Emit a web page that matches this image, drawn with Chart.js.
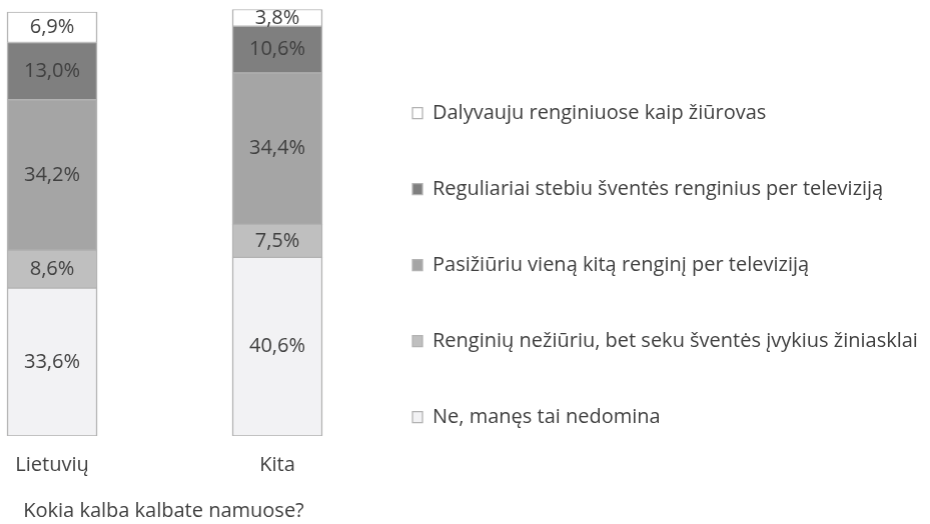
<!DOCTYPE html>
<html lang="lt">
<head>
<meta charset="utf-8">
<title>Kokia kalba kalbate namuose?</title>
<script src="https://cdn.jsdelivr.net/npm/chart.js@4.4.1/dist/chart.umd.min.js"></script>
<style>
  html, body { margin: 0; padding: 0; background: #fff; overflow: hidden; }
  body { width: 930px; height: 524px; position: relative; }
  #wrap { position: absolute; left: -29px; top: 0; height: 524px; }
</style>
</head>
<body>
<div id="wrap"><canvas id="chart"></canvas></div>
<script>
  // x axis categories
  const categories = ['Lietuvių', 'Kita'];

  // series, bottom of the stack first
  const seriesLabels = [
    'Ne, manęs tai nedomina',
    'Renginių nežiūriu, bet seku šventės įvykius žiniasklai',
    'Pasižiūriu vieną kitą renginį per televiziją',
    'Reguliariai stebiu šventės renginius per televiziją',
    'Dalyvauju renginiuose kaip žiūrovas'
  ];
  const neDomina = [33.6, 40.6];
  const sekuZiniasklai = [8.6, 7.5];
  const vienaKita = [34.2, 34.4];
  const reguliariai = [13.0, 10.6];
  const dalyvauju = [6.9, 3.8];
  const seriesValues = [neDomina, sekuZiniasklai, vienaKita, reguliariai, dalyvauju];

  const axisTitle = 'Kokia kalba kalbate namuose?';

  const seriesColors = ['#f2f2f4', '#bfbfbf', '#a5a5a5', '#7f7f7f', '#ffffff'];
  const TEXT = '#404040';
  const FAMILY = "'Open Sans', sans-serif";
  const SIZE = 20;

  // legend sits right of a fixed plot width; size the canvas from the longest label
  const plotW = 385, legendPad = 56, legendBox = 10;
  const probe = document.createElement('canvas').getContext('2d');
  probe.font = SIZE + 'px ' + FAMILY;
  const longest = Math.max(...seriesLabels.map(t => probe.measureText(t).width));
  document.getElementById('wrap').style.width =
    (plotW + legendPad + legendBox + SIZE / 2 + longest + 10) + 'px';

  Chart.defaults.font.family = FAMILY;
  Chart.defaults.font.size = SIZE;
  Chart.defaults.color = TEXT;

  // value text in the middle of each segment, "33,6%"
  const segmentLabels = {
    id: 'segmentLabels',
    afterDatasetsDraw(chart) {
      const ctx = chart.ctx;
      ctx.save();
      ctx.font = SIZE + 'px ' + FAMILY;
      ctx.fillStyle = TEXT;
      ctx.textAlign = 'center';
      ctx.textBaseline = 'middle';
      chart.data.datasets.forEach((ds, i) => {
        chart.getDatasetMeta(i).data.forEach((bar, j) => {
          const p = bar.getProps(['x', 'y', 'base'], true);
          ctx.fillText(seriesValues[i][j].toFixed(1).replace('.', ',') + '%', p.x, (p.y + p.base) / 2);
        });
      });
      ctx.restore();
    }
  };

  new Chart(document.getElementById('chart'), {
    type: 'bar',
    data: {
      datasets: seriesLabels.map((label, i) => ({
        label: label,
        data: seriesValues[i].map((v, j) => ({ x: j, y: v })),
        backgroundColor: seriesColors[i],
        borderColor: '#b2b2b2',
        borderWidth: { top: 1, bottom: 1, left: 1.5, right: 1.5 },
        borderSkipped: false,
        barThickness: 90
      }))
    },
    options: {
      responsive: true,
      maintainAspectRatio: false,
      animation: false,
      layout: { padding: { top: 6 } },
      plugins: {
        legend: {
          position: 'right',
          reverse: true,
          maxWidth: 2000,
          labels: { boxWidth: legendBox, boxHeight: 11, padding: legendPad, color: TEXT }
        },
        tooltip: { enabled: false }
      },
      scales: {
        x: {
          type: 'linear',
          offset: false,
          stacked: true,
          min: -0.36,
          max: 1.3511,
          afterBuildTicks: axis => { axis.ticks = categories.map((c, i) => ({ value: i })); },
          grid: { display: false, drawTicks: false, offset: false },
          border: { display: false },
          ticks: { padding: 17, maxRotation: 0, autoSkip: false, callback: v => categories[v] },
          title: { display: true, text: axisTitle, padding: { top: 5, bottom: 1 } }
        },
        y: { display: false, stacked: true, min: 0, max: 97.7 }
      }
    },
    plugins: [segmentLabels]
  });
</script>
</body>
</html>
